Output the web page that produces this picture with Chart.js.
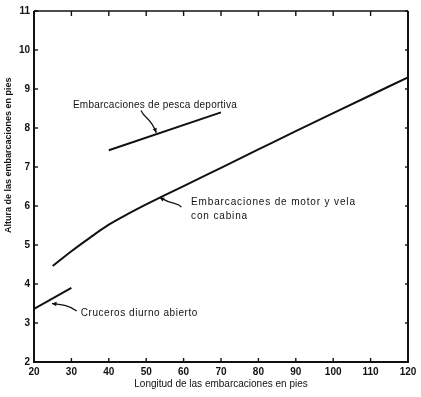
<!DOCTYPE html>
<html>
<head>
<meta charset="utf-8">
<script src="https://cdn.jsdelivr.net/npm/chart.js@4.4.0/dist/chart.umd.min.js"></script>
<style>
  html, body { margin: 0; padding: 0; background: #fff; }
  #wrap { width: 421px; height: 397px; }
</style>
</head>
<body>
<div id="wrap"><canvas id="chart" width="421" height="397"></canvas></div>
<script>
// Boat height (ft) against boat length (ft), three kinds of boat
const cruceroLen = [20, 30]
const cruceroAlt = [3.36, 3.9]
const pescaLen = [40, 70]
const pescaAlt = [7.43, 8.4]
const motorLen = [25, 30, 35, 40, 45, 50, 55, 60, 70, 80, 90, 100, 110, 120]
const motorAlt = [4.46, 4.84, 5.19, 5.52, 5.79, 6.04, 6.28, 6.51, 6.98, 7.45, 7.92, 8.38, 8.84, 9.3]

const xTicks = [20, 30, 40, 50, 60, 70, 80, 90, 100, 110, 120]
const yTicks = [2, 3, 4, 5, 6, 7, 8, 9, 10, 11]

const xTitle = "Longitud de las embarcaciones en pies"
const yTitle = "Altura de las embarcaciones en pies"

const ink = "#111"
const labelFont = "10px 'Liberation Sans', Arial, sans-serif"

const toPoints = (xs, ys) => xs.map((x, i) => ({ x: x, y: ys[i] }))

// hand-lettered notes with their arrows, placed in data units
const notes = [
  {
    lines: ["Embarcaciones de pesca deportiva"],
    at: [30.4, 8.58],
    spacing: "0.25px",
    arrow: [[48.6, 8.45], [49.9, 8.2], [51.0, 8.3], [52.7, 7.88]],
  },
  {
    lines: ["Embarcaciones de motor y vela", "con cabina"],
    at: [62.0, 6.1],
    spacing: "0.85px",
    arrow: [[59.4, 5.97], [58.4, 6.1], [57.5, 6.0], [53.6, 6.22]],
  },
  {
    lines: ["Cruceros diurno abierto"],
    at: [32.5, 3.26],
    spacing: "0.55px",
    arrow: [[31.4, 3.31], [29.5, 3.45], [27.5, 3.47], [24.8, 3.5]],
  },
]

const framePlugin = {
  id: "frame",
  afterDraw(chart) {
    const { ctx, chartArea: a, scales } = chart
    const seg = (x1, y1, x2, y2) => {
      ctx.beginPath()
      ctx.moveTo(x1, y1)
      ctx.lineTo(x2, y2)
      ctx.stroke()
    }
    ctx.save()
    ctx.strokeStyle = ink
    ctx.lineWidth = 2
    ctx.beginPath()
    ctx.moveTo(a.left, a.top)
    ctx.lineTo(a.left, a.bottom)
    ctx.lineTo(a.right, a.bottom)
    ctx.lineTo(a.right, a.top)
    ctx.stroke()
    ctx.lineWidth = 1.3
    seg(a.left, a.top, a.right, a.top)

    // ticks point inward on every side
    ctx.lineWidth = 1.4
    xTicks.forEach((v) => {
      const px = scales.x.getPixelForValue(v)
      seg(px, a.bottom, px, a.bottom - 4)
      seg(px, a.top, px, a.top + 5)
    })
    yTicks.forEach((v) => {
      const py = scales.y.getPixelForValue(v)
      seg(a.left, py, a.left + 4, py)
      seg(a.right, py, a.right - 3, py)
    })

    // y axis title, set a bit above the middle as in the original
    ctx.fillStyle = ink
    ctx.font = "bold 9px 'Liberation Sans', Arial, sans-serif"
    ctx.textAlign = "center"
    ctx.textBaseline = "middle"
    ctx.translate(9, scales.y.getPixelForValue(7.3))
    ctx.rotate(-Math.PI / 2)
    ctx.fillText(yTitle, 0, 0)
    ctx.restore()
  },
}

const notesPlugin = {
  id: "notes",
  afterDatasetsDraw(chart) {
    const { ctx, scales } = chart
    const px = (p) => [scales.x.getPixelForValue(p[0]), scales.y.getPixelForValue(p[1])]
    ctx.save()
    ctx.fillStyle = ink
    ctx.strokeStyle = ink
    ctx.font = labelFont
    ctx.textAlign = "left"
    ctx.textBaseline = "middle"
    notes.forEach((n) => {
      const [tx, ty] = px(n.at)
      ctx.letterSpacing = n.spacing
      n.lines.forEach((t, i) => ctx.fillText(t, tx, ty + i * 14))
      ctx.letterSpacing = "0px"

      const pts = n.arrow.map(px)
      ctx.lineWidth = 1.3
      ctx.beginPath()
      ctx.moveTo(pts[0][0], pts[0][1])
      ctx.bezierCurveTo(pts[1][0], pts[1][1], pts[2][0], pts[2][1], pts[3][0], pts[3][1])
      ctx.stroke()

      // arrow head
      const [x2, y2] = pts[3]
      const ang = Math.atan2(y2 - pts[2][1], x2 - pts[2][0])
      ctx.beginPath()
      ctx.moveTo(x2, y2)
      ctx.lineTo(x2 - 5 * Math.cos(ang - 0.45), y2 - 5 * Math.sin(ang - 0.45))
      ctx.lineTo(x2 - 5 * Math.cos(ang + 0.45), y2 - 5 * Math.sin(ang + 0.45))
      ctx.closePath()
      ctx.fill()
    })
    ctx.restore()
  },
}

const lineStyle = {
  borderColor: ink,
  borderWidth: 2,
  pointRadius: 0,
  fill: false,
}

new Chart(document.getElementById("chart"), {
  type: "line",
  data: {
    datasets: [
      { label: "Cruceros diurno abierto", data: toPoints(cruceroLen, cruceroAlt), ...lineStyle },
      { label: "Embarcaciones de pesca deportiva", data: toPoints(pescaLen, pescaAlt), ...lineStyle },
      {
        label: "Embarcaciones de motor y vela con cabina",
        data: toPoints(motorLen, motorAlt),
        ...lineStyle,
        cubicInterpolationMode: "monotone",
      },
    ],
  },
  options: {
    responsive: false,
    animation: false,
    layout: { padding: { left: 0, top: 11, right: 13, bottom: 0 } },
    plugins: {
      legend: { display: false },
      tooltip: { enabled: false },
    },
    scales: {
      x: {
        type: "linear",
        min: 20,
        max: 120,
        afterBuildTicks: (s) => { s.ticks = xTicks.map((v) => ({ value: v })) },
        afterFit: (s) => { s.height = 35 },
        grid: { display: false, drawTicks: false },
        border: { display: false },
        ticks: {
          padding: 4,
          color: ink,
          font: { family: "'Liberation Sans', Arial, sans-serif", size: 10, weight: "bold" },
        },
        title: {
          display: true,
          text: xTitle,
          color: ink,
          font: { family: "'Liberation Sans', Arial, sans-serif", size: 10 },
          padding: { top: 4, bottom: 7 },
        },
      },
      y: {
        type: "linear",
        min: 2,
        max: 11,
        afterBuildTicks: (s) => { s.ticks = yTicks.map((v) => ({ value: v })) },
        afterFit: (s) => { s.width = 34 },
        grid: { display: false, drawTicks: false },
        border: { display: false },
        ticks: {
          padding: 4,
          color: ink,
          font: { family: "'Liberation Sans', Arial, sans-serif", size: 10, weight: "bold" },
        },
      },
    },
  },
  plugins: [framePlugin, notesPlugin],
})
</script>
</body>
</html>
